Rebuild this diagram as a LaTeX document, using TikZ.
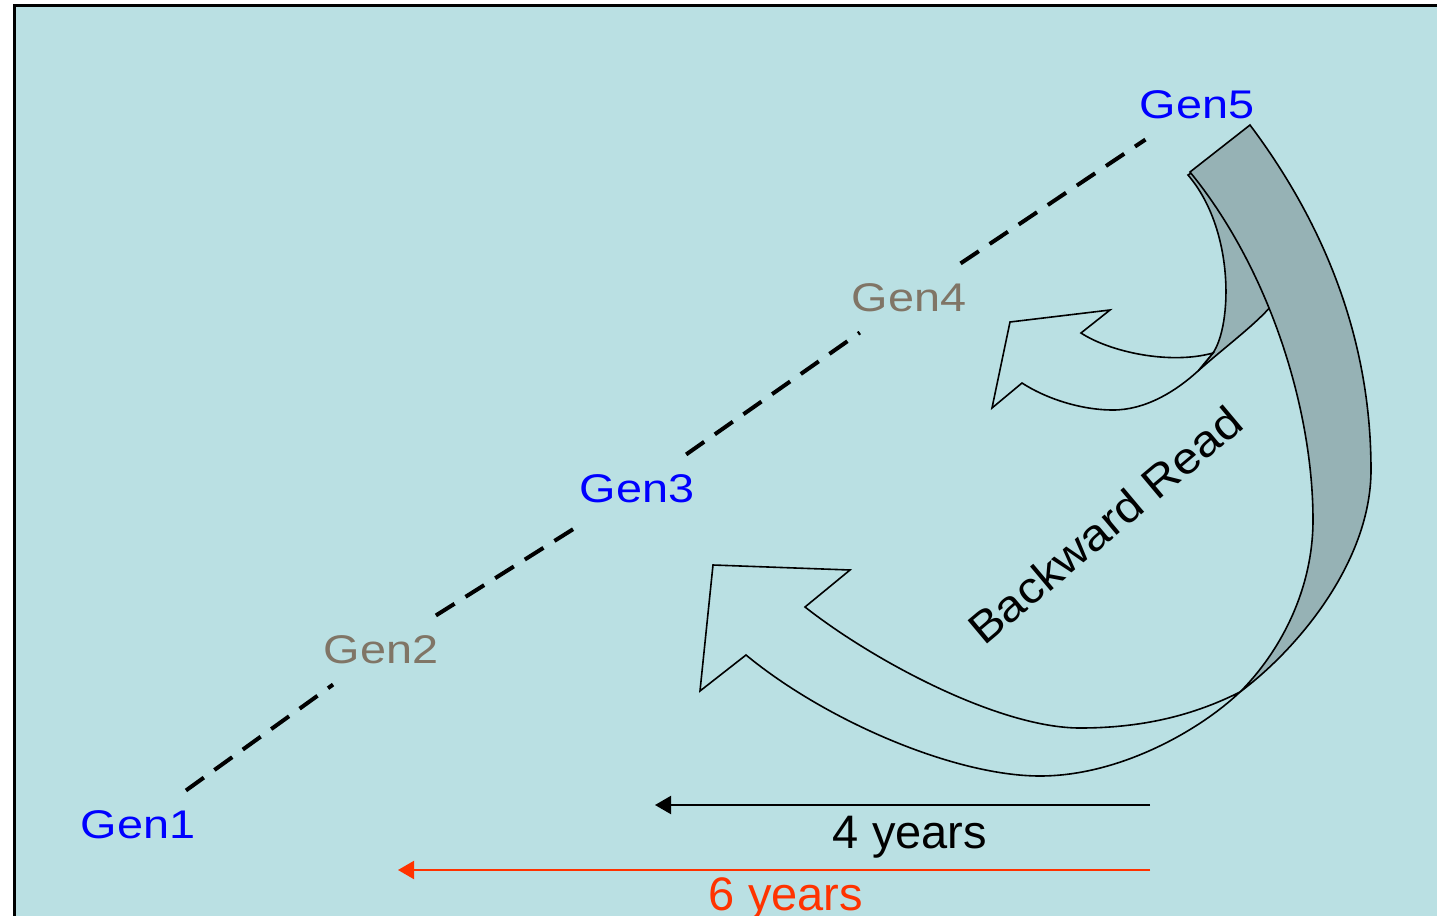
\documentclass[tikz,border=0pt]{standalone}
\usepackage{fontspec}
\setmainfont{Liberation Sans}
\usetikzlibrary{arrows.meta}
\definecolor{bgc}{HTML}{BAE0E3}
\definecolor{bandc}{HTML}{96B2B5}
\definecolor{genblue}{HTML}{0000FF}
\definecolor{gengray}{HTML}{807566}
\definecolor{sixred}{HTML}{FF3300}
\begin{document}
\begin{tikzpicture}[x=0.5pt,y=-0.5pt,
  gen/.style={inner xsep=4pt,inner ysep=10pt,font=\fontsize{20}{22}\selectfont},
  genlink/.style={line width=2pt,dash pattern=on 11pt off 6.5pt},
  arrowbody/.style={draw=black,line width=0.8pt,fill=bgc,line join=miter},
  arrowback/.style={draw=black,line width=0.8pt,fill=bandc,line join=miter},
  span/.style={line width=1pt,-{Triangle[length=8pt,width=9pt]}},
  yearlabel/.style={font=\fontsize{23.5}{26}\selectfont,anchor=base,inner sep=0pt}]
\clip (0,0) rectangle (1437,916);
\fill[white] (0,0) rectangle (1437,916);
\fill[bgc] (14,5) rectangle (1437,916);
\draw[line width=1.5pt] (14,930) -- (14,5) -- (1450,5);

% generation labels
\node[gen,text=genblue] (g1) at (138,825) {\scalebox{1.17}[1]{Gen1}};
\node[gen,text=gengray] (g2) at (381,650) {\scalebox{1.17}[1]{Gen2}};
\node[gen,text=genblue] (g3) at (637,489) {\scalebox{1.17}[1]{Gen3}};
\node[gen,text=gengray] (g4) at (909,298) {\scalebox{1.17}[1]{Gen4}};
\node[gen,text=genblue] (g5) at (1197,105) {\scalebox{1.17}[1]{Gen5}};

\draw[genlink] (g1) -- (g2);
\draw[genlink] (g2) -- (g3);
\draw[genlink] (g3) -- (g4);
\draw[genlink] (g4) -- (g5);

% small curved arrow: back band
\path[arrowback] (1188,175) .. controls (1235,230) and (1232,325) .. (1213,353)
  -- (1198,371) .. controls (1225,347) and (1255,325) .. (1272,305)
  .. controls (1262,250) and (1235,195) .. (1200,168) -- cycle;
% small curved arrow: body
\path[arrowbody] (1213,353) .. controls (1170,365) and (1110,352) .. (1081,333)
  -- (1110,310) -- (1010,322) -- (992,408) -- (1022,383)
  .. controls (1045,398) and (1080,410) .. (1113,410)
  .. controls (1145,410) and (1175,392) .. (1198,371) -- cycle;

% large curved arrow: back band
\path[arrowback] (1190,172) -- (1250,125)
  .. controls (1325,225) and (1371,340) .. (1371,470)
  .. controls (1371,560) and (1300,647) .. (1240,692)
  .. controls (1280,652) and (1313,590) .. (1313,520)
  .. controls (1313,410) and (1270,270) .. (1190,172) -- cycle;
% large curved arrow: body
\path[arrowbody] (1240,692) .. controls (1200,712) and (1150,728) .. (1080,728)
  .. controls (1000,728) and (875,662) .. (805,607)
  -- (850,570) -- (713,565) -- (700,691) -- (746,655)
  .. controls (826,721) and (955,776) .. (1040,776)
  .. controls (1120,776) and (1200,730) .. (1240,692) -- cycle;

\node[rotate=40,inner sep=0pt,font=\fontsize{22}{24}\selectfont] (br) at (1105,525) {\scalebox{1.1}[1]{Backward Read}};

% spans
\coordinate (f4) at (1150,805);
\coordinate (t4) at (655,805);
\coordinate (f6) at (1150,870);
\coordinate (t6) at (398,870);
\draw[span] (f4) -- (t4);
\draw[span,draw=sixred,fill=sixred] (f6) -- (t6);
\node[yearlabel] (y4) at (910,848) {4 years};
\node[yearlabel,text=sixred] (y6) at (786,910) {6 years};
\end{tikzpicture}
\end{document}
